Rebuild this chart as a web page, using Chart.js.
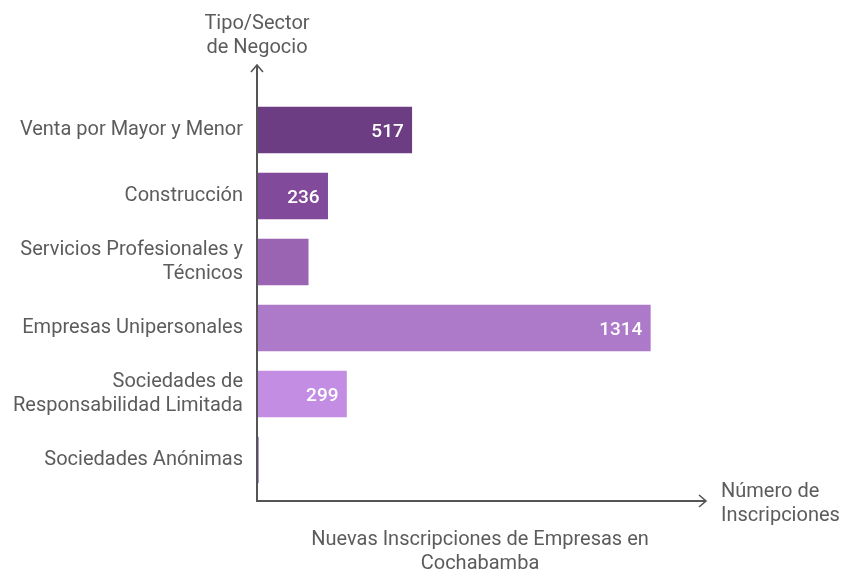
<!DOCTYPE html>
<html>
<head>
<meta charset="utf-8">
<script src="https://cdn.jsdelivr.net/npm/chart.js@4.4.1/dist/chart.umd.min.js"></script>
<style>
  html, body { margin: 0; padding: 0; background: #fff; }
  #wrap { width: 865px; height: 579px; }
</style>
</head>
<body>
<div id="wrap"><canvas id="chart"></canvas></div>
<script>
// data
var sectors = [
  'Venta por Mayor y Menor',
  'Construcción',
  ['Servicios Profesionales y', 'Técnicos'],
  'Empresas Unipersonales',
  ['Sociedades de', 'Responsabilidad Limitada'],
  'Sociedades Anónimas'
];
var inscripciones = [517, 236, 171, 1314, 299, 5];
var barColors = ['#6d3d84', '#814a9a', '#9a64b3', '#ad79c9', '#c38de3', '#a77bc0'];

var yTitle = ['Tipo/Sector', 'de Negocio'];
var xTitle = ['Número de', 'Inscripciones'];
var chartTitle = ['Nuevas Inscripciones de Empresas en', 'Cochabamba'];

var textColor = '#5c5c5c';
var axisColor = '#555555';

// axes with arrows + titles + value labels
var decorPlugin = {
  id: 'decor',
  afterDatasetsDraw: function (chart) {
    var ctx = chart.ctx;
    var x = chart.scales.x;
    var meta = chart.getDatasetMeta(0);
    var x0 = x.getPixelForValue(0);
    var yBase = chart.chartArea.bottom + 8;
    var xEnd = x.getPixelForValue(x.max);
    var yTop = chart.chartArea.top - 32;

    // value labels
    ctx.save();
    ctx.font = '500 19px Roboto';
    ctx.fillStyle = '#ffffff';
    ctx.textAlign = 'right';
    ctx.textBaseline = 'middle';
    meta.data.forEach(function (bar, i) {
      var txt = String(inscripciones[i]);
      var w = bar.x - bar.base;
      if (w > ctx.measureText(txt).width + 24) {
        ctx.fillText(txt, bar.x - 8, bar.y + 2);
      }
    });
    ctx.restore();

    // axis lines
    ctx.save();
    ctx.strokeStyle = axisColor;
    ctx.lineWidth = 2;
    ctx.beginPath();
    ctx.moveTo(x0, yTop);
    ctx.lineTo(x0, yBase);
    ctx.lineTo(xEnd, yBase);
    ctx.stroke();
    ctx.lineWidth = 1.6;
    ctx.beginPath();
    ctx.moveTo(x0 - 6, yTop + 7);
    ctx.lineTo(x0, yTop);
    ctx.lineTo(x0 + 6, yTop + 7);
    ctx.moveTo(xEnd - 7, yBase - 6);
    ctx.lineTo(xEnd, yBase);
    ctx.lineTo(xEnd - 7, yBase + 6);
    ctx.stroke();

    // titles
    ctx.font = '20px Roboto';
    ctx.fillStyle = textColor;
    ctx.textBaseline = 'middle';
    ctx.textAlign = 'center';
    ctx.fillText(yTitle[0], x0, 24);
    ctx.fillText(yTitle[1], x0, 48);
    ctx.textAlign = 'left';
    ctx.fillText(xTitle[0], xEnd + 15, 492);
    ctx.fillText(xTitle[1], xEnd + 15, 516);
    ctx.textAlign = 'center';
    ctx.fillText(chartTitle[0], 480, 540);
    ctx.fillText(chartTitle[1], 480, 564);
    ctx.restore();
  }
};

var ctx = document.getElementById('chart').getContext('2d');
var sectorChart = new Chart(ctx, {
  type: 'bar',
  data: {
    labels: sectors,
    datasets: [{
      data: inscripciones,
      backgroundColor: barColors,
      borderWidth: 0,
      barThickness: 46
    }]
  },
  options: {
    indexAxis: 'y',
    responsive: true,
    maintainAspectRatio: false,
    animation: false,
    layout: { padding: { top: 97, bottom: 86, right: 159, left: 0 } },
    plugins: {
      legend: { display: false },
      tooltip: { enabled: false }
    },
    scales: {
      x: {
        display: false,
        min: 0,
        max: 1500
      },
      y: {
        grid: { display: false, drawTicks: false },
        border: { display: false },
        afterFit: function (scale) { scale.width = 257; },
        ticks: {
          padding: 14,
          color: textColor,
          font: { family: 'Roboto', size: 20, lineHeight: 1.2 }
        }
      }
    }
  },
  plugins: [decorPlugin]
});
</script>
</body>
</html>
